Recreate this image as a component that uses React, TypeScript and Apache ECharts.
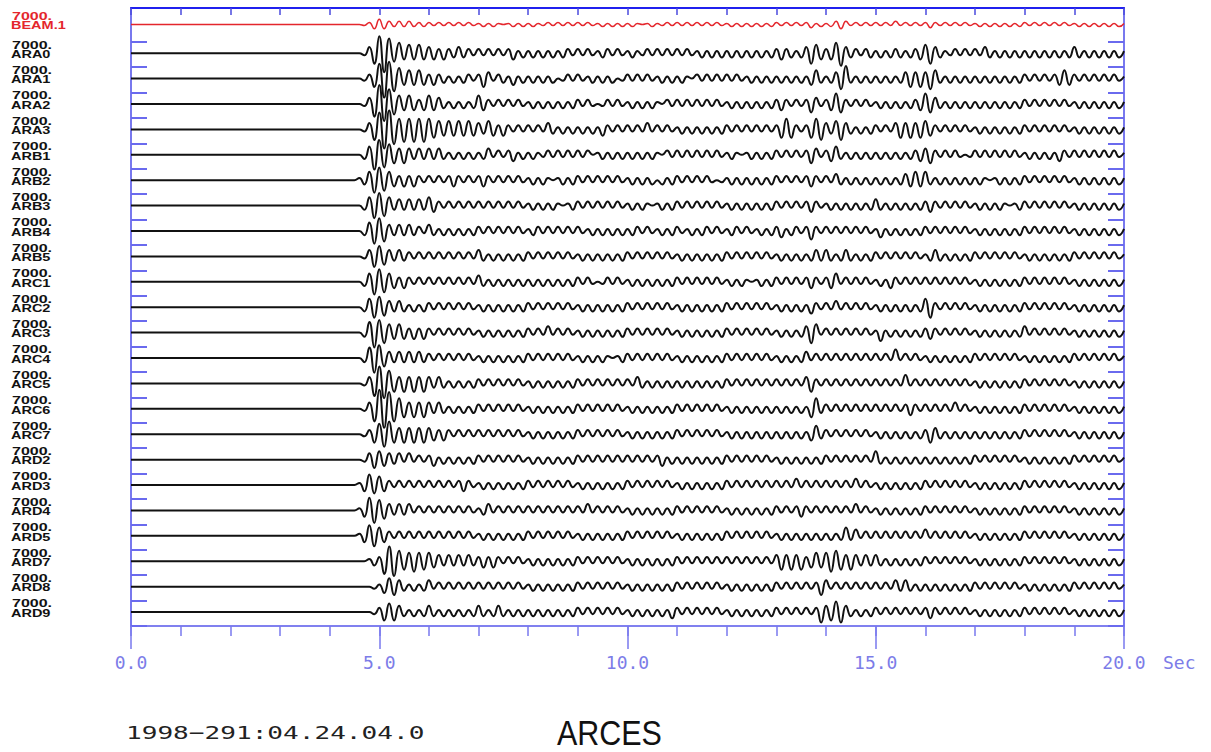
import React, { useEffect, useRef } from 'react';
import * as echarts from 'echarts';

// ---- data ----
const T_STEP = 0.1; // seconds between samples (each group of 10 digits = 1 s)
const X_MIN = 0;
const X_MAX = 20;
const X_MINOR = 1;
const X_MAJOR = 5;
const AMP_LABEL = '7000.';
const X_UNIT = 'Sec';
const DATE_LABEL = '1998\u2212291:04.24.04.0';
const STATION = 'ARCES';

const TRACE_NAMES = [
  'BEAM.1', 'ARA0', 'ARA1', 'ARA2', 'ARA3', 'ARB1', 'ARB2', 'ARB3', 'ARB4', 'ARB5',
  'ARC1', 'ARC2', 'ARC3', 'ARC4', 'ARC5', 'ARC6', 'ARC7', 'ARD2', 'ARD3', 'ARD4',
  'ARD5', 'ARD7', 'ARD8', 'ARD9',
];
const GAINS = [0.5, 1, 1, 1, 1, 1, 1, 1, 1, 1, 1, 1, 1, 1, 1, 1, 1, 1, 1, 1, 1, 1, 1, 1];

// peak amplitudes of successive half-cycles (alternating polarity), 0.1 s apart
const BEAM_1 = '0000000000 0000000000 0000000000 0000000000 0000000124 5432323222 2121212121 1212101212 1211212121 2121121212 1210121121 2121212121 1212121212 2121212312 1234312121 2121312121 2321212121 1212121212 2121212121 1212121212 1';
const ARA0 = '0000000000 0000000000 0000000000 0000000000 0000000135 8974534343 3323223221 2121212312 1212121221 2121122121 1211212121 2121121212 1212121212 2322123543 2356322122 1212221223 4532112121 2132121212 1212121212 3212121212 1';
const ARA1 = '0000000000 0000000000 0000000000 0000000000 0000000124 7986534343 2322121221 2431221312 1212120121 2112121201 2121211212 1210212121 2121121212 1212121342 1235621212 1212123434 3542121212 1212121212 2121212343 2121212121 1';
const ARA2 = '0000000000 0000000000 0000000000 0000000000 0000000136 9875434323 4332121212 4321212121 1212121212 2121012121 1212121021 2121212121 1212121212 2321212431 2354212121 1212121223 5432121212 1212121212 2121212121 1212121212 1';
const ARA3 = '0000000000 0000000000 0000000000 0000000000 0000000135 8997565656 5443434343 3243232121 2121321212 1212132121 2121312121 1212121212 2121212121 2454212455 3245321212 2121343434 4321212121 1212121212 2121212121 1212121212 1';
const ARB1 = '0000000000 0000000000 0000000000 0000000000 0000000247 7654343232 3232121212 1231212312 1211212121 2120121212 1212121021 2121212121 1210121212 2121212431 2342121212 1212121223 3421212101 2121212121 1212121321 2121212121 1';
const ARB2 = '0000000000 0000000000 0000000000 0000000000 0000001246 6543232321 2121232121 2321212121 1212101212 2121212121 1212120212 2121212101 1212121212 2121212321 2132121212 1212123343 4212121212 1210121212 2121212121 1212121212 1';
const ARB3 = '0000000000 0000000000 0000000000 0000000000 0000000246 6542323232 4321212121 2121212121 1212121012 2121212121 1212101212 2121212121 1212121212 2121212321 1212121212 3212121212 2321212121 1212121012 2121212121 1212121212 1';
const ARB4 = '0000000000 0000000000 0000000000 0000000000 0000000246 6532323221 3212121212 2121212121 1221212121 2112121212 1221211212 2112122121 1221211212 2312212421 2121212121 1312121212 2121212121 1212121212 2121212121 1212121212 1';
const ARB5 = '0000000000 0000000000 0000000000 0000000000 0000000135 5432322121 2121212121 3212121212 2121212121 1212121212 2121212121 1212121212 2121212121 1212121232 3212321212 2121212121 1232121212 2121212121 1212121212 2121212121 1';
const ARC1 = '0000000000 0000000000 0000000000 0000000000 0000000246 6543232121 2121212121 3212121212 1212121212 2121012121 1212121212 2121212121 1212101212 2121212321 2341212121 1213212121 2121212121 1212121212 2121212121 1212121212 1';
const ARC2 = '0000000000 0000000000 0000000000 0000000000 0000000245 5432321212 2121212121 1212121212 2121212121 1212121212 2121212121 1212121212 2121212121 1212121321 2131212121 1212121212 4521212121 1212121212 2121212121 1212121212 1';
const ARC3 = '0000000000 0000000000 0000000000 0000000000 0000000257 6543432323 2121212121 1212121212 2121312121 1212121212 2121212121 1212121212 2121212121 1212123541 2121212121 1412121212 2321212121 1212121212 3121212121 1212121212 1';
const ARC4 = '0000000000 0000000000 0000000000 0000000000 0000000257 6432323232 2121212121 1212121212 2121212121 1212121012 2121212121 1212121212 2121212121 1212123121 2121212121 2121412121 1212121212 2121212121 1212121212 2121212121 1';
const ARC5 = '0000000000 0000000000 0000000000 0000000000 0000000136 8764343434 3232121212 2121212121 1212121212 2121212121 2132121212 1212121212 2121212121 2121213421 2121212121 2121214121 2121212121 1212121212 2121212121 1212121212 1';
const ARC6 = '0000000000 0000000000 0000000000 0000000000 0000000136 9986543434 3232121212 2121212121 1212121212 2121212121 1212121212 2121212121 1212121212 1212121452 2121212121 2121212321 2121213121 1212121212 2121212121 1212121212 1';
const ARC7 = '0000000000 0000000000 0000000000 0000000000 0000000124 5664343434 3323212121 2121212121 1212121212 2121212121 1212121212 2121212121 1212121212 1212121342 2121212121 1212121212 2432121212 1212121212 2121212121 1212121212 1';
const ARD2 = '0000000000 0000000000 0000000000 0000000000 0000000134 4332313121 2312121212 2121212121 1212121212 2121212121 2121212312 1212121212 2121212121 1212121212 2121212121 4212121212 1212121212 2121212121 1212121212 2121212121 1';
const ARD3 = '0000000000 0000000000 0000000000 0000000000 0000001354 4321212121 2121212321 1212121212 2121212121 1212121212 2121212121 1212121212 2121212121 2121312121 2121213121 1212121212 2121212121 1212121212 2121212121 1212121212 1';
const ARD4 = '0000000000 0000000000 0000000000 0000000000 0000001366 5432323121 2121212121 1231212121 2121212121 2131212121 1212121212 2121212121 1212121212 2121232121 2121213121 1212121212 2121212121 1212121212 2121212121 1212121212 1';
const ARD5 = '0000000000 0000000000 0000000000 0000000000 0000001355 4321212121 2121212121 1212121212 2121212121 1212121212 2121212121 1212121212 2121212121 1212121212 1212423121 2121212121 3121212121 1212121212 2121212121 1212121212 1';
const ARD7 = '0000000000 0000000000 0000000000 0000000000 0000000012 2677544544 4332323232 2323212121 1212121212 2121212121 1212121212 2121212121 2121212121 3434342343 4554343232 3212121212 2121212121 1212121212 2121212121 1212121212 1';
const ARD8 = '0000000000 0000000000 0000000000 0000000000 0000000001 1344321212 3121212121 2121212121 1212121212 2121212121 1212121212 2121212121 1212121212 2121212124 3121212121 2121323212 1212121212 2121212121 1212121212 2121212121 1';
const ARD9 = '0000000000 0000000000 0000000000 0000000000 0000000001 2444321212 3212121212 3212321212 1212121212 2121212121 1212121213 2121212121 1212121212 2121212125 3455321212 2121212121 2321212121 1212121212 2121212121 1212121212 1';

const TRACES = [
  BEAM_1, ARA0, ARA1, ARA2, ARA3, ARB1, ARB2, ARB3, ARB4, ARB5,
  ARC1, ARC2, ARC3, ARC4, ARC5, ARC6, ARC7, ARD2, ARD3, ARD4,
  ARD5, ARD7, ARD8, ARD9,
];

// ---- styling / layout ----
const FRAME = '#7878ee';
const TOP_BLUE = '#2020ee';
const LABEL_BLUE = '#7c7ce8';
const RED = '#e4262c';
const SLOT_MAX = 24.33;
const AMP_UNIT = 0.083;

function baseline(i: number): number {
  return i === 0 ? 23.68 : 23.55 - i;
}

export default function App() {
  const ref = useRef<HTMLDivElement>(null);

  useEffect(() => {
    document.body.style.margin = '0';
    const chart = echarts.init(ref.current as HTMLDivElement, null, { renderer: 'svg' });

    const series = TRACES.map((s, i) => {
      const digits = s.replace(/\s+/g, '').split('');
      const data = digits.map((c, k) => [
        Math.round(k * T_STEP * 10) / 10,
        baseline(i) + (k % 2 === 0 ? 1 : -1) * Number(c) * AMP_UNIT * GAINS[i],
      ]);
      return {
        type: 'line',
        name: TRACE_NAMES[i],
        data,
        xAxisIndex: 0,
        yAxisIndex: 0,
        showSymbol: false,
        symbol: 'none',
        smooth: 0.5,
        silent: true,
        z: 3,
        lineStyle: { color: i === 0 ? RED : '#111111', width: i === 0 ? 1.5 : 2 },
      };
    });

    const tickValues = Array.from({ length: 24 }, (_, k) => k);
    const yAxisCommon = {
      type: 'value',
      min: 0,
      max: SLOT_MAX,
      axisLine: { show: true, onZero: false, lineStyle: { color: FRAME, width: 2 } },
      axisTick: { show: true, inside: true, length: 16, customValues: tickValues, lineStyle: { color: '#6a6aee', width: 2 } },
      axisLabel: { show: false },
      splitLine: { show: false },
    };

    chart.setOption({
      animation: false,
      backgroundColor: '#ffffff',
      grid: { left: 131, top: 8, width: 993, height: 618, show: true, borderColor: FRAME, borderWidth: 1.5 },
      xAxis: [
        {
          type: 'value', position: 'bottom', min: X_MIN, max: X_MAX, interval: X_MINOR,
          axisLine: { show: true, onZero: false, lineStyle: { color: FRAME, width: 1.5 } },
          axisTick: { show: true, length: 10, lineStyle: { color: FRAME, width: 1.5 } },
          axisLabel: { show: false }, splitLine: { show: false },
        },
        {
          type: 'value', position: 'bottom', min: X_MIN, max: X_MAX, interval: X_MAJOR,
          axisLine: { show: false, onZero: false },
          axisTick: { show: true, length: 23, lineStyle: { color: FRAME, width: 1.5 } },
          axisLabel: {
            show: true, margin: 27, color: LABEL_BLUE, fontSize: 18, fontFamily: 'DejaVu Sans Mono',
            formatter: (v: number) => v.toFixed(1),
          },
          splitLine: { show: false },
        },
        {
          type: 'value', position: 'top', min: X_MIN, max: X_MAX, interval: X_MINOR,
          axisLine: { show: true, onZero: false, lineStyle: { color: TOP_BLUE, width: 2 } },
          axisTick: { show: true, inside: true, length: 7, lineStyle: { color: '#4a4ade', width: 1.5 } },
          axisLabel: { show: false }, splitLine: { show: false },
        },
      ],
      yAxis: [
        { ...yAxisCommon, position: 'left' },
        { ...yAxisCommon, position: 'right' },
      ],
      series,
    });

    const graphics: any[] = [];
    TRACES.forEach((_, i) => {
      const py = chart.convertToPixel({ gridIndex: 0 }, [0, baseline(i)])[1];
      const color = i === 0 ? RED : '#111111';
      graphics.push({
        type: 'text', x: 12, y: py - 8, scaleX: 1.6, silent: true,
        style: { text: AMP_LABEL, fill: color, font: 'bold 10px "Liberation Sans"', textAlign: 'left', textVerticalAlign: 'middle' },
      });
      graphics.push({
        type: 'text', x: 11, y: py + 1.5, scaleX: 1.45, silent: true,
        style: { text: TRACE_NAMES[i], fill: color, font: 'bold 10px "Liberation Sans"', textAlign: 'left', textVerticalAlign: 'middle' },
      });
    });
    const xEnd = chart.convertToPixel({ xAxisIndex: 0 }, X_MAX) as number;
    graphics.push({
      type: 'text', x: xEnd + 39, y: 662, silent: true,
      style: { text: X_UNIT, fill: LABEL_BLUE, font: '18px "DejaVu Sans Mono"', textAlign: 'left', textVerticalAlign: 'middle' },
    });
    graphics.push({
      type: 'text', x: 126, y: 733, scaleX: 1.45, silent: true,
      style: { text: DATE_LABEL, fill: '#222222', font: '18px "DejaVu Sans Mono"', textAlign: 'left', textVerticalAlign: 'middle' },
    });
    graphics.push({
      type: 'text', x: 557, y: 733, scaleX: 0.87, silent: true,
      style: { text: STATION, fill: '#111111', font: '35px "Liberation Sans"', textAlign: 'left', textVerticalAlign: 'middle' },
    });
    chart.setOption({ graphic: graphics });

    return () => {
      chart.dispose();
    };
  }, []);

  return <div ref={ref} style={{ position: 'fixed', left: 0, top: 0, width: 1211, height: 752 }} />;
}
